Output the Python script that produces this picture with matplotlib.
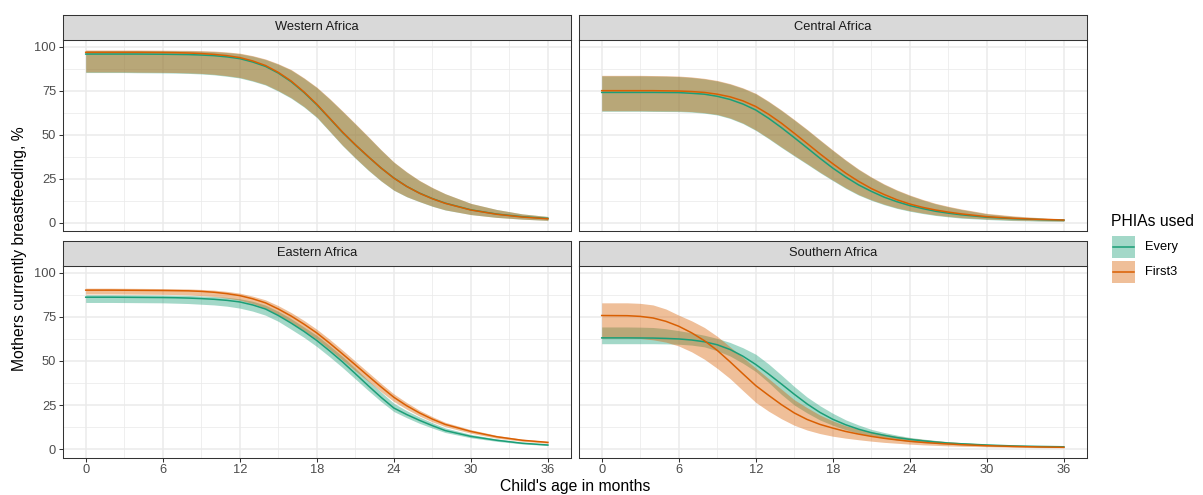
import matplotlib
matplotlib.use("Agg")
import matplotlib.pyplot as plt
from matplotlib.lines import Line2D
from matplotlib.patches import Rectangle

plt.rcParams['font.family'] = ['Liberation Sans', 'DejaVu Sans']

# ---------------- data ----------------
months = [0, 2, 3, 4, 5, 6, 7, 8, 9, 10, 11, 12, 13, 14, 15, 16, 17, 18, 19, 20,
          21, 22, 23, 24, 25, 26, 27, 28, 30, 32, 34, 36]
regions = ["Western Africa", "Central Africa", "Eastern Africa", "Southern Africa"]
series_names = ["Every", "First3"]
series_colors = ["#1B9E77", "#D95F02"]
x_ticks = [0, 6, 12, 18, 24, 30, 36]
y_ticks = [0, 25, 50, 75, 100]

# Western Africa
W_every_mean = [95.8, 95.8, 95.8, 95.8, 95.75, 95.7, 95.6, 95.5, 95.25, 94.9, 94.2, 93.2, 91.3, 88.8, 85.0, 80.1,
                74.0, 67.0, 59.2, 51.3, 44.2, 37.5, 31.1, 25.4, 20.6, 16.8, 13.7, 11.1, 7.3, 4.9, 3.4, 2.4]
W_every_lo = [85.3, 85.3, 85.3, 85.2, 85.15, 85.1, 85.0, 84.8, 84.5, 84.0, 83.2, 82.2, 80.4, 78.2, 74.7, 70.7,
              65.7, 59.7, 51.8, 43.8, 36.6, 29.8, 23.7, 18.4, 14.7, 11.9, 9.3, 7.2, 4.6, 3.0, 2.0, 1.3]
W_every_hi = [97.8, 97.8, 97.8, 97.8, 97.75, 97.7, 97.65, 97.6, 97.45, 97.2, 96.7, 96.0, 94.6, 92.7, 90.0, 86.7,
              82.0, 76.7, 70.2, 63.2, 56.0, 48.7, 41.3, 34.3, 28.7, 23.8, 19.8, 16.4, 10.9, 7.5, 5.0, 3.5]
W_first_mean = [96.8, 96.8, 96.8, 96.8, 96.75, 96.7, 96.6, 96.4, 96.1, 95.6, 94.9, 93.8, 91.9, 89.3, 85.4, 80.5,
                74.3, 67.3, 59.4, 51.5, 44.3, 37.6, 31.1, 25.3, 20.6, 16.7, 13.6, 11.0, 7.2, 4.8, 3.2, 2.2]
W_first_lo = [85.6, 85.6, 85.6, 85.5, 85.45, 85.4, 85.3, 85.1, 84.8, 84.3, 83.5, 82.5, 80.7, 78.5, 75.0, 71.0,
              66.0, 60.0, 52.0, 44.0, 36.8, 30.0, 23.8, 18.5, 14.8, 12.0, 9.4, 7.3, 4.6, 3.0, 2.0, 1.3]
W_first_hi = [98.1, 98.1, 98.1, 98.1, 98.05, 98.0, 97.95, 97.9, 97.75, 97.5, 97.0, 96.3, 94.9, 93.0, 90.3, 87.0,
              82.3, 77.0, 70.5, 63.5, 56.3, 49.0, 41.5, 34.5, 28.9, 24.0, 20.0, 16.5, 11.0, 7.5, 5.0, 3.5]

# Central Africa
C_every_mean = [74.0, 74.0, 74.0, 74.0, 73.95, 73.9, 73.5, 73.0, 71.8, 70.0, 67.4, 64.0, 59.3, 54.0, 48.3, 42.5,
                36.6, 31.0, 26.0, 21.5, 17.8, 14.5, 11.9, 9.7, 8.0, 6.5, 5.4, 4.5, 3.1, 2.3, 1.8, 1.4]
C_every_lo = [63.3, 63.3, 63.3, 63.2, 63.15, 63.1, 62.8, 62.2, 61.2, 59.2, 56.3, 52.4, 47.7, 42.7, 37.9, 33.2,
              28.4, 23.9, 19.5, 15.7, 12.7, 10.2, 8.1, 6.5, 5.2, 4.1, 3.3, 2.6, 1.8, 1.2, 0.9, 0.7]
C_every_hi = [83.4, 83.4, 83.4, 83.3, 83.2, 83.0, 82.5, 81.7, 80.5, 78.7, 76.3, 73.2, 68.7, 63.7, 58.3, 52.7,
              46.8, 41.0, 35.4, 30.2, 25.7, 21.7, 18.3, 15.4, 12.9, 10.7, 9.0, 7.5, 5.0, 3.6, 2.6, 1.9]
C_first_mean = [75.0, 75.0, 75.0, 75.0, 74.9, 74.8, 74.5, 74.0, 73.0, 71.5, 69.2, 66.0, 61.6, 56.5, 50.8, 45.0,
                39.1, 33.5, 28.2, 23.5, 19.4, 16.0, 13.0, 10.6, 8.7, 7.2, 6.0, 5.0, 3.4, 2.5, 1.9, 1.5]
C_first_lo = [63.6, 63.6, 63.6, 63.5, 63.45, 63.4, 63.1, 62.5, 61.5, 59.5, 56.6, 52.7, 48.0, 43.0, 38.2, 33.5,
              28.7, 24.2, 19.8, 16.0, 13.0, 10.5, 8.4, 6.8, 5.5, 4.4, 3.6, 2.9, 2.1, 1.5, 1.1, 0.9]
C_first_hi = [83.7, 83.7, 83.7, 83.6, 83.5, 83.3, 82.8, 82.0, 80.8, 79.0, 76.6, 73.5, 69.0, 64.0, 58.6, 53.0,
              47.1, 41.3, 35.7, 30.5, 26.0, 22.0, 18.6, 15.7, 13.2, 11.0, 9.3, 7.8, 5.3, 3.9, 2.9, 2.2]

# Eastern Africa
E_every_mean = [86.2, 86.2, 86.15, 86.1, 86.05, 86.0, 85.9, 85.7, 85.4, 85.0, 84.4, 83.5, 81.8, 79.5, 75.8, 71.5,
                66.8, 61.6, 55.7, 49.5, 42.8, 36.0, 29.4, 23.3, 19.6, 16.3, 13.3, 10.5, 7.2, 5.0, 3.3, 2.3]
E_every_lo = [83.2, 83.2, 83.15, 83.1, 83.05, 83.0, 82.8, 82.6, 82.2, 81.8, 81.1, 80.0, 78.3, 76.0, 72.5, 68.0,
              63.4, 58.2, 52.4, 46.3, 39.8, 33.3, 27.0, 21.3, 17.8, 14.6, 11.9, 9.4, 6.4, 4.4, 2.9, 2.0]
E_every_hi = [87.6, 87.6, 87.55, 87.5, 87.45, 87.4, 87.3, 87.2, 86.9, 86.6, 86.1, 85.3, 83.9, 81.7, 78.2, 74.0,
              69.3, 64.5, 58.7, 52.6, 45.9, 39.0, 32.4, 26.0, 21.8, 18.2, 15.0, 12.0, 8.3, 5.8, 3.9, 2.8]
E_first_mean = [90.2, 90.2, 90.15, 90.1, 90.05, 90.0, 89.9, 89.8, 89.5, 89.0, 88.2, 87.1, 85.3, 83.0, 79.5, 75.5,
                70.9, 65.9, 60.1, 54.0, 47.8, 41.5, 35.3, 29.4, 24.6, 20.5, 17.0, 14.0, 10.0, 7.0, 5.0, 3.8]
E_first_lo = [88.0, 88.0, 87.95, 87.9, 87.85, 87.8, 87.7, 87.5, 87.1, 86.6, 85.7, 84.5, 82.6, 80.0, 76.2, 72.0,
              67.3, 62.3, 56.5, 50.5, 44.4, 38.5, 32.6, 27.0, 22.6, 18.7, 15.4, 12.7, 9.0, 6.2, 4.4, 3.3]
E_first_hi = [91.3, 91.3, 91.25, 91.2, 91.15, 91.1, 91.0, 90.9, 90.6, 90.2, 89.5, 88.5, 86.8, 84.7, 81.4, 77.5,
              73.0, 68.0, 62.3, 56.2, 49.9, 43.6, 37.3, 31.3, 26.4, 22.0, 18.4, 15.2, 11.0, 7.8, 5.6, 4.3]

# Southern Africa
S_every_mean = [63.1, 63.1, 63.05, 63.0, 62.8, 62.5, 61.9, 60.9, 59.2, 56.5, 52.7, 48.0, 42.6, 36.9, 31.1, 25.6,
                20.8, 16.9, 13.8, 11.3, 9.3, 7.8, 6.5, 5.5, 4.7, 4.0, 3.4, 3.0, 2.3, 1.8, 1.5, 1.3]
S_every_lo = [59.8, 59.8, 59.8, 59.8, 59.7, 59.5, 59.0, 58.0, 55.8, 52.8, 48.7, 44.0, 37.8, 31.0, 25.0, 20.5,
              16.5, 13.5, 11.0, 9.0, 7.5, 6.2, 5.2, 4.3, 3.7, 3.2, 2.7, 2.4, 1.8, 1.4, 1.2, 1.0]
S_every_hi = [69.3, 69.3, 69.2, 69.0, 68.3, 67.2, 66.0, 64.6, 62.8, 60.5, 57.5, 53.8, 48.3, 42.0, 35.5, 29.5,
              24.6, 20.3, 16.6, 13.7, 11.2, 9.4, 7.9, 6.6, 5.7, 4.9, 4.1, 3.6, 2.7, 2.1, 1.8, 1.5]
S_first_mean = [75.8, 75.7, 75.3, 74.4, 72.5, 69.7, 66.0, 61.5, 56.0, 49.5, 42.7, 36.0, 30.5, 25.2, 20.5, 16.8,
                14.0, 11.9, 10.0, 8.5, 7.2, 6.1, 5.2, 4.4, 3.8, 3.3, 2.9, 2.5, 1.9, 1.5, 1.2, 1.0]
S_first_lo = [63.0, 63.0, 62.8, 62.0, 60.7, 58.5, 55.2, 51.0, 45.8, 40.0, 33.2, 26.5, 21.5, 17.2, 13.5, 10.8,
              8.8, 7.3, 6.2, 5.3, 4.5, 3.8, 3.3, 2.8, 2.4, 2.1, 1.8, 1.6, 1.3, 1.0, 0.8, 0.7]
S_first_hi = [83.0, 83.0, 82.7, 81.8, 79.5, 76.0, 72.8, 69.0, 64.0, 58.0, 52.0, 46.0, 40.0, 34.0, 28.0, 23.5,
              19.3, 16.0, 13.3, 11.3, 9.8, 8.5, 7.3, 6.3, 5.5, 4.8, 4.2, 3.7, 2.8, 2.2, 1.7, 1.4]

panel_data = {
    "Western Africa": [(W_every_mean, W_every_lo, W_every_hi), (W_first_mean, W_first_lo, W_first_hi)],
    "Central Africa": [(C_every_mean, C_every_lo, C_every_hi), (C_first_mean, C_first_lo, C_first_hi)],
    "Eastern Africa": [(E_every_mean, E_every_lo, E_every_hi), (E_first_mean, E_first_lo, E_first_hi)],
    "Southern Africa": [(S_every_mean, S_every_lo, S_every_hi), (S_first_mean, S_first_lo, S_first_hi)],
}

# ---------------- layout ----------------
W, H = 1203, 495
fig = plt.figure(figsize=(W / 100, H / 100), dpi=100)


def px_axes(x0, y0, x1, y1, **kw):
    return fig.add_axes([x0 / W, 1 - y1 / H, (x1 - x0) / W, (y1 - y0) / H], **kw)


cols = [(62.6, 571.0), (578.6, 1087.0)]
rows = [(39.8, 231.3), (266.0, 457.7)]
strip_h = 25.0

dark = "#333333"
grid_c = "#EBEBEB"
tick_c = "#4D4D4D"
fs_tick = 9.3
fs_title = 11.3
line_w = 1.1

for i, reg in enumerate(regions):
    r, c = divmod(i, 2)
    x0, x1 = cols[c]
    y0, y1 = rows[r]
    ax = px_axes(x0, y0, x1, y1)
    ax.set_xlim(-1.8, 37.8)
    ax.set_ylim(-4.9, 103.9)
    ax.set_xticks(x_ticks)
    ax.set_yticks(y_ticks)
    ax.set_xticks([3, 9, 15, 21, 27, 33], minor=True)
    ax.set_yticks([12.5, 37.5, 62.5, 87.5], minor=True)
    ax.grid(True, which="major", color=grid_c, lw=1.1, zorder=0)
    ax.grid(True, which="minor", color=grid_c, lw=0.55, zorder=0)
    ax.set_axisbelow(True)
    for sp in ax.spines.values():
        sp.set_color(dark)
        sp.set_linewidth(0.75)
    ax.tick_params(which="minor", length=0)
    ax.tick_params(which="major", length=2.6, width=0.75, color=dark,
                   labelcolor=tick_c, labelsize=fs_tick, pad=2.0)
    if c != 0:
        ax.tick_params(axis="y", length=0, labelleft=False)
    if r != 1:
        ax.tick_params(axis="x", length=0, labelbottom=False)

    for (mean, lo, hi), col in zip(panel_data[reg], series_colors):
        ax.fill_between(months, lo, hi, color=col, alpha=0.4, lw=0, zorder=2)
    for (mean, lo, hi), col in zip(panel_data[reg], series_colors):
        ax.plot(months, mean, color=col, lw=line_w, zorder=3)

    sax = px_axes(x0, y0 - strip_h, x1, y0)
    sax.set_facecolor("#D9D9D9")
    sax.set_xticks([])
    sax.set_yticks([])
    for sp in sax.spines.values():
        sp.set_color(dark)
        sp.set_linewidth(0.75)
    sax.text(0.5, 0.5, reg, ha="center", va="center", fontsize=fs_tick,
             color="#1A1A1A", transform=sax.transAxes)

fig.text(20 / W, 1 - 249 / H, "Mothers currently breastfeeding, %", rotation=90,
         ha="center", va="center", fontsize=fs_title, color="black")
fig.text(575 / W, 1 - 487 / H, "Child's age in months", ha="center", va="center",
         fontsize=fs_title, color="black")

# ---------------- legend (drawn by hand, pixel positions) ----------------
fig.text(1111 / W, 1 - 221 / H, "PHIAs used", ha="left", va="center",
         fontsize=fs_title, color="black")
key_tops = [236.0, 261.0]
key_x0, key_x1 = 1111.5, 1135.0
key_h = 22.3
for name, col, top in zip(series_names, series_colors, key_tops):
    fig.add_artist(Rectangle((key_x0 / W, 1 - (top + key_h) / H), (key_x1 - key_x0) / W, key_h / H,
                             transform=fig.transFigure, facecolor=col, alpha=0.4,
                             edgecolor="none"))
    yc = 1 - (top + key_h / 2) / H
    fig.add_artist(Line2D([(key_x0 + 1.5) / W, (key_x1 - 1.5) / W], [yc, yc],
                          transform=fig.transFigure, color=col, lw=line_w))
    fig.text(1145 / W, yc, name, ha="left", va="center", fontsize=fs_tick, color="black")

fig.savefig("out.png", dpi=100)
